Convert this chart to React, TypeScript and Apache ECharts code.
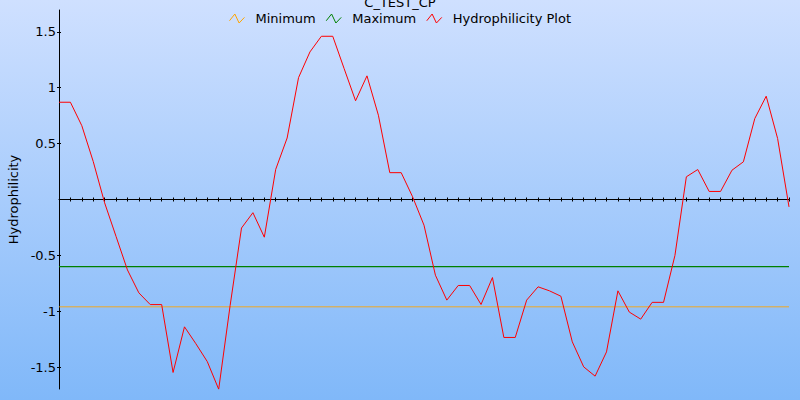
import { useEffect, useRef } from "react";
import * as echarts from "echarts";

const TITLE = "C_TEST_CP";
const Y_NAME = "Hydrophilicity";
const SERIES_NAMES = ["Minimum", "Maximum", "Hydrophilicity Plot"];
const SERIES_COLORS = ["#ffa500", "#008000", "#ff0000"];
const MIN_LEVEL = -0.96;
const MAX_LEVEL = -0.6;
const Y_MIN = -1.695;
const Y_MAX = 1.695;
const Y_TICKS = [-1.5, -1, -0.5, 0.5, 1, 1.5];
const HYDRO = [
  0.87, 0.87, 0.66, 0.34, -0.03, -0.33, -0.63, -0.835, -0.94, -0.94,
  -1.547, -1.139, -1.29, -1.45, -1.697, -0.95, -0.255, -0.118, -0.337, 0.27,
  0.55, 1.09, 1.32, 1.46, 1.46, 1.17, 0.883, 1.106, 0.754, 0.24,
  0.24, 0.024, -0.23, -0.677, -0.9, -0.769, -0.769, -0.939, -0.698, -1.234,
  -1.234, -0.9, -0.781, -0.817, -0.865, -1.273, -1.497, -1.58, -1.363, -0.817,
  -1.007, -1.07, -0.92, -0.92, -0.5, 0.203, 0.268, 0.072, 0.072, 0.262,
  0.337, 0.724, 0.924, 0.546, -0.066,
];

const FONT = "DejaVu Sans";
const ICON = "path://M0,6L5,0L9,8L14,3";

export default function App() {
  const ref = useRef<HTMLDivElement>(null);
  useEffect(() => {
    if (!ref.current) return;
    const chart = echarts.init(ref.current, null, { renderer: "svg" });
    const last = HYDRO.length - 1;
    const axisColor = "#000";
    const xAxisBase = {
      type: "value" as const,
      min: 0,
      max: last,
      interval: 1,
      axisLabel: { show: false },
      splitLine: { show: false },
    };
    const yAxisBase = {
      type: "value" as const,
      min: Y_MIN,
      max: Y_MAX,
      position: "left" as const,
      splitLine: { show: false },
    };
    chart.setOption({
      animation: false,
      backgroundColor: new echarts.graphic.LinearGradient(0, 0, 0, 1, [
        { offset: 0, color: "#cfe0ff" },
        { offset: 1, color: "#80b8f9" },
      ]),
      title: {
        text: TITLE,
        left: "center",
        top: -4,
        padding: 0,
        textStyle: { fontSize: 13, fontWeight: "normal", color: "#000", fontFamily: FONT },
      },
      legend: {
        top: 12,
        left: "center",
        padding: 0,
        itemWidth: 15,
        itemHeight: 9,
        itemGap: 10,
        symbolKeepAspect: false,
        textStyle: { fontSize: 13, color: "#000", fontFamily: FONT, padding: [0, 0, 0, 6] },
        data: SERIES_NAMES.map((n, i) => ({
          name: n,
          icon: ICON,
          itemStyle: { color: "rgba(0,0,0,0)", borderColor: SERIES_COLORS[i], borderWidth: 1 },
        })),
      },
      grid: { left: 59, right: 11, top: 10, bottom: 11, containLabel: false, outerBoundsMode: "none" },
      xAxis: [
        {
          ...xAxisBase,
          axisLine: { show: true, onZero: true, onZeroAxisIndex: 0, lineStyle: { color: axisColor, width: 1 } },
          axisTick: { show: true, length: 2, lineStyle: { color: axisColor, width: 1 } },
        },
        {
          ...xAxisBase,
          position: "bottom",
          axisLine: { show: false, onZero: true, onZeroAxisIndex: 0 },
          axisTick: { show: true, inside: true, length: 2, lineStyle: { color: axisColor, width: 1 } },
        },
      ],
      yAxis: [
        {
          ...yAxisBase,
          name: Y_NAME,
          nameLocation: "middle",
          nameGap: 34,
          nameTextStyle: { fontSize: 13, color: "#000", fontFamily: FONT },
          axisLine: { show: true, onZero: true, onZeroAxisIndex: 0, lineStyle: { color: axisColor, width: 1 } },
          axisTick: { show: true, length: 2, customValues: Y_TICKS, lineStyle: { color: axisColor, width: 1 } },
          axisLabel: {
            customValues: Y_TICKS,
            margin: 3,
            fontSize: 13,
            color: "#000",
            fontFamily: FONT,
            formatter: (v: number) => String(v),
          },
        },
        {
          ...yAxisBase,
          axisLine: { show: false, onZero: true, onZeroAxisIndex: 0 },
          axisTick: { show: true, inside: true, length: 2, customValues: Y_TICKS, lineStyle: { color: axisColor, width: 1 } },
          axisLabel: { show: false },
        },
      ],
      series: [
        {
          name: SERIES_NAMES[0],
          type: "line",
          showSymbol: false,
          data: [[0, MIN_LEVEL], [last, MIN_LEVEL]],
          lineStyle: { color: SERIES_COLORS[0], width: 1, opacity: 0.85 },
          itemStyle: { color: SERIES_COLORS[0] },
        },
        {
          name: SERIES_NAMES[1],
          type: "line",
          showSymbol: false,
          data: [[0, MAX_LEVEL], [last, MAX_LEVEL]],
          lineStyle: { color: SERIES_COLORS[1], width: 1.2 },
          itemStyle: { color: SERIES_COLORS[1] },
        },
        {
          name: SERIES_NAMES[2],
          type: "line",
          showSymbol: false,
          data: HYDRO.map((v, i) => [i, v]),
          lineStyle: { color: SERIES_COLORS[2], width: 1 },
          itemStyle: { color: SERIES_COLORS[2] },
        },
      ],
    });
    return () => chart.dispose();
  }, []);
  return (
    <div
      ref={ref}
      style={{ position: "fixed", left: 0, top: 0, width: 800, height: 400 }}
    />
  );
}
